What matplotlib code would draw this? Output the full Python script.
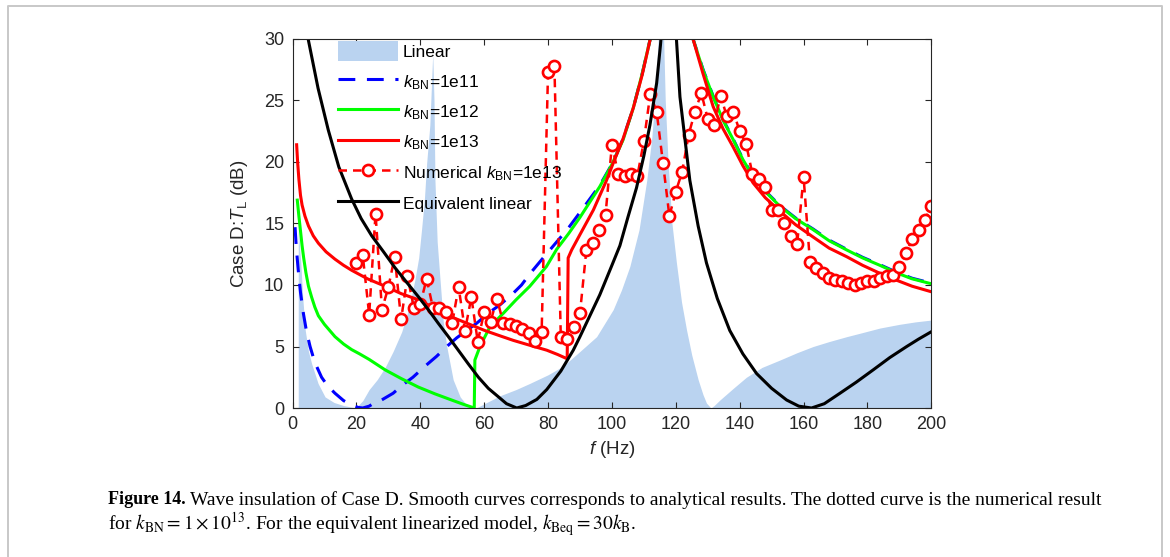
import numpy as np
import matplotlib
matplotlib.use("Agg")
import matplotlib.pyplot as plt
from matplotlib.lines import Line2D

plt.rcParams['font.family'] = ['Liberation Sans', 'DejaVu Sans']
plt.rcParams['mathtext.fontset'] = 'custom'
plt.rcParams['mathtext.rm'] = 'Liberation Sans'
plt.rcParams['mathtext.it'] = 'Liberation Sans:italic'
plt.rcParams['mathtext.bf'] = 'Liberation Sans:bold'

# Linear model (filled area)
lin_f = [1.8, 2.6, 3.2, 4.0, 5.0, 6.0, 8.0, 10.2, 13.0, 16.0, 19.0, 20.0, 22.0, 24.0, 26.5,
         29.0, 31.5, 34.2, 36.5, 38.3, 39.5, 40.4, 41.3, 42.0, 43.0, 43.9, 44.3, 44.6, 45.3,
         46.2, 47.2, 48.3, 50.3, 52.5, 55.0, 56.5, 57.5, 59.7, 65.0, 70.0, 74.3, 80.0, 84.7,
         90.0, 95.2, 100.4, 103.0, 105.6, 108.5, 110.9, 112.5, 113.5, 114.5, 115.3, 116.2,
         116.7, 117.6, 118.8, 120.2, 121.8, 123.4, 125.0, 127.0, 128.5, 129.6, 131.0, 132.0,
         133.8, 138.0, 142.1, 147.0, 152.6, 158.0, 163.0, 168.0, 173.5, 178.0, 183.9, 190.0,
         195.0, 200.0]
lin_db = [14.5, 11.8, 9.0, 6.3, 4.6, 3.6, 2.0, 0.9, 0.45, 0.2, 0.05, 0.05, 0.6, 1.5, 2.3,
          3.3, 4.6, 6.2, 8.2, 10.4, 12.2, 14.5, 17.0, 19.9, 23.0, 28.8, 25.0, 18.5, 13.5,
          10.4, 7.0, 5.0, 2.3, 0.9, 0.1, 0.0, 0.0, 0.3, 1.0, 1.5, 2.0, 2.7, 3.4,
          4.6, 5.8, 8.0, 9.6, 11.5, 14.5, 18.5, 22.0, 25.3, 30.0, 36.0, 30.0,
          25.0, 19.9, 15.0, 11.8, 8.6, 6.3, 4.3, 2.3, 1.1, 0.4, 0.0, 0.2,
          0.65, 1.6, 2.5, 3.3, 3.9, 4.5, 5.0, 5.4, 5.8, 6.1, 6.5, 6.8,
          7.0, 7.15]

# k_BN = 1e11 (blue dashed)
b11_f = [0.8, 1.2, 1.8, 2.5, 3.4, 4.4, 5.5, 7.0, 9.1, 11.0, 13.3, 16.0, 18.5, 20.5, 22.0,
         24.0, 25.5, 27.9, 31.5, 34.6, 37.7, 41.5, 45.1, 48.3, 51.4, 54.5, 57.7, 61.8, 65.0,
         68.6, 71.7, 74.3, 77.5, 82.7, 86.0, 90.0, 96.2, 100.4, 103.5, 106.7, 109.5, 112.0,
         113.0,
         124.5, 125.4, 128.5, 131.7, 134.8, 138.0, 141.0, 144.2, 148.0, 152.6, 157.5, 163.0,
         168.0, 173.5, 178.5, 183.9, 189.0, 194.0, 200.0]
b11_db = [14.7, 13.0, 11.2, 9.4, 7.7, 6.2, 5.0, 3.7, 2.5, 1.8, 1.2, 0.6, 0.25, 0.05, 0.0,
          0.15, 0.4, 0.65, 1.2, 1.9, 2.5, 3.4, 4.2, 5.0, 5.7, 6.3, 6.9, 7.8, 8.4,
          9.2, 10.0, 10.9, 11.9, 13.5, 14.5, 15.9, 18.1, 20.0, 21.9, 24.4, 27.2, 30.0,
          31.5,
          32.0, 30.0, 27.55, 25.35, 23.45, 21.85, 20.25, 18.85, 17.65, 16.45, 15.45, 14.55,
          13.65, 12.9, 12.25, 11.65, 11.05, 10.55, 10.15]

# k_BN = 1e12 (green)
g12_f = [1.5, 2.0, 2.5, 3.0, 3.5, 4.2, 5.0, 6.0, 7.0, 8.1, 10.0, 13.3, 16.0, 18.5, 21.0,
         24.0, 29.0, 34.0, 39.4, 44.6, 49.8, 53.5, 56.9, 57.1, 58.7, 61.8, 66.0, 70.0, 74.3,
         79.5, 82.7, 86.5, 90.0, 96.2, 99.9, 103.5, 106.7, 109.5, 112.0, 113.0,
         124.5, 125.4, 128.5, 131.7, 134.8, 138.0, 141.0, 144.2, 148.0, 152.6, 157.5, 163.0,
         168.0, 173.5, 178.5, 183.9, 189.0, 194.0, 200.0]
g12_db = [16.9, 15.6, 14.4, 13.2, 12.2, 11.0, 9.9, 9.0, 8.2, 7.5, 6.8, 5.8, 5.2, 4.75, 4.4,
          3.95, 3.1, 2.4, 1.7, 1.15, 0.65, 0.3, 0.0, 3.9, 5.0, 6.6, 7.7, 8.8, 9.9,
          11.5, 12.9, 14.2, 15.5, 18.0, 19.75, 21.8, 24.4, 27.2, 30.0, 31.5,
          32.0, 30.0, 27.5, 25.3, 23.4, 21.8, 20.2, 18.8, 17.6, 16.4, 15.4, 14.5,
          13.6, 12.85, 12.2, 11.6, 11.0, 10.5, 10.1]

# k_BN = 1e13 (red)
r13_f = [1.3, 1.6, 2.0, 2.5, 3.0, 3.9, 5.0, 6.5, 8.1, 10.5, 13.3, 16.0, 18.5, 23.5, 29.0,
         34.0, 39.4, 44.6, 49.8, 55.0, 60.2, 64.6, 69.1, 74.3, 79.6, 83.0, 86.0, 86.3, 87.4,
         90.0, 94.2, 98.3, 100.4, 103.5, 106.7, 109.5, 112.0, 113.0,
         124.0, 125.4, 128.5, 131.7, 134.8, 138.0, 141.0, 144.2, 148.0, 152.6, 157.5, 163.0,
         168.0, 173.5, 178.5, 183.9, 189.0, 194.0, 200.0]
r13_db = [21.4, 20.0, 18.6, 17.3, 16.5, 15.6, 14.8, 14.0, 13.4, 12.7, 12.1, 11.6, 11.2, 10.5,
          9.9, 9.3, 8.8, 8.1, 7.4, 6.85, 6.3, 5.9, 5.5, 5.1, 4.7, 4.35, 4.0, 12.2, 12.85,
          14.1, 16.1, 18.5, 19.9, 21.9, 24.4, 27.1, 30.0, 31.5,
          33.0, 30.0, 27.2, 24.5, 22.7, 21.2, 19.7, 18.3, 17.1, 16.0, 14.9, 13.9,
          13.0, 12.3, 11.6, 10.95, 10.4, 9.9, 9.45]

# numerical result, k_BN = 1e13
num_f = [20, 22, 24, 26, 28, 30, 32, 34, 36, 38, 40, 42, 44, 46, 48, 50, 52, 54, 56, 58,
         60, 62, 64, 66, 68, 70, 72, 74, 76, 78, 80, 82, 84, 86, 88, 90, 92, 94, 96, 98,
         100, 102, 104, 106, 108, 110, 112, 114, 116, 118, 120, 122, 124, 126, 128, 130,
         132, 134, 136, 138, 140, 142, 144, 146, 148, 150, 152, 154, 156, 158, 160, 162,
         164, 166, 168, 170, 172, 174, 176, 178, 180, 182, 184, 186, 188, 190, 192, 194,
         196, 198, 200]
num_db = [11.8, 12.4, 7.6, 15.8, 8.0, 9.8, 12.3, 7.2, 10.7, 8.15, 8.45, 10.5, 8.1, 8.1, 7.8,
          6.9, 9.85, 6.3, 9.0, 5.4, 7.8, 7.0, 8.9, 6.9, 6.8, 6.7, 6.4, 6.07, 5.45, 6.2,
          27.3, 27.8, 5.75, 5.65, 6.6, 7.7, 12.85, 13.4, 14.5, 15.7, 21.4, 19.0, 18.9, 19.0,
          18.9, 21.7, 25.5, 24.1, 19.9, 15.6, 17.6, 19.2, 22.2, 24.1, 25.6, 23.5, 23.0, 25.4,
          23.7, 24.1, 22.5, 21.5, 19.0, 18.65, 17.95, 16.1, 16.1, 15.0, 13.95, 13.35, 18.8,
          11.9, 11.35, 11.0, 10.6, 10.4, 10.35, 10.2, 10.0, 10.2, 10.3, 10.3, 10.55, 10.7,
          10.8, 11.5, 12.6, 13.7, 14.5, 15.3, 16.4]

# equivalent linear model (black)
eq_f = [3.5, 4.9, 8.0, 11.2, 14.5, 18.5, 21.5, 24.8, 28.5, 32.1, 35.8, 39.4, 42.5, 45.6,
        48.8, 51.9, 55.0, 58.2, 61.3, 64.5, 67.0, 70.2, 73.0, 76.5, 79.6, 84.0, 87.9, 90.0,
        93.1, 96.2, 100.0, 102.5, 105.0, 107.7, 110.0, 111.9, 114.0, 115.2, 116.3, 117.2,
        119.5, 120.2, 121.3, 124.4, 127.0, 129.6, 133.0, 136.9, 141.0, 145.3, 150.0, 154.7,
        158.5, 162.5, 166.5, 171.4, 176.5, 181.8, 187.0, 192.3, 196.0, 200.0]
eq_db = [33.0, 30.0, 26.0, 22.6, 19.6, 17.0, 15.4, 14.0, 12.7, 11.4, 10.2, 9.05, 8.0, 6.9,
         5.8, 4.7, 3.6, 2.5, 1.6, 0.9, 0.35, 0.0, 0.2, 0.7, 1.5, 3.0, 4.7, 5.8,
         7.5, 9.2, 11.6, 13.2, 15.5, 17.9, 20.5, 23.0, 26.4, 29.5, 33.0, 38.0,
         36.0, 30.0, 25.3, 18.5, 14.8, 11.8, 8.9, 6.3, 4.4, 2.8, 1.6, 0.65,
         0.15, 0.0, 0.35, 1.2, 2.1, 3.1, 4.1, 5.0, 5.6, 6.2]

fig = plt.figure(figsize=(11.7, 5.57), dpi=100)
ax = fig.add_axes([0.25, 0.2675, 0.546, 0.6625])

ax.fill_between(lin_f, lin_db, 0, color='#bad3f0', lw=0, label='Linear')
ax.plot(b11_f, b11_db, color='#0000ff', lw=2.2, dashes=(5.5, 3.8), label=r'$k_{\mathrm{BN}}$=1e11')
ax.plot(g12_f, g12_db, color='#00ff00', lw=2.2, label=r'$k_{\mathrm{BN}}$=1e12')
ax.plot(r13_f, r13_db, color='#ff0000', lw=2.2, label=r'$k_{\mathrm{BN}}$=1e13')
ax.plot(num_f, num_db, color='#ff0000', lw=1.8, dashes=(3.4, 2.4), marker='o', ms=8,
        mew=1.9, mfc='white', mec='#ff0000', label=r'Numerical $k_{\mathrm{BN}}$=1e13')
ax.plot(eq_f, eq_db, color='black', lw=2.2, label='Equivalent linear')

ax.set_xlim(0, 200)
ax.set_ylim(0, 30)
ax.set_xticks(range(0, 201, 20))
ax.set_yticks(range(0, 31, 5))
ax.tick_params(direction='in', length=4.5, width=0.8, top=True, right=True,
               labelsize=13, colors='#262626', pad=6)
for s in ax.spines.values():
    s.set_linewidth(0.8)
    s.set_color('#262626')

ax.set_xlabel(r'$f$ (Hz)', fontsize=13.5, color='#262626', labelpad=4)
ax.set_ylabel(r'Case D:$T_{\mathrm{L}}$ (dB)', fontsize=13.5, color='#262626', labelpad=10)

leg = ax.legend(loc='upper left', bbox_to_anchor=(0.072, 0.994), frameon=False,
                fontsize=12.5, handlelength=3.45, handleheight=1.4, handletextpad=0.25,
                labelspacing=0.57, borderpad=0, borderaxespad=0, numpoints=1)

# caption under the chart
cap_kw = dict(fontsize=14, family='Liberation Serif', math_fontfamily='stix', color='black')
fig.text(108 / 1170, 1 - 500 / 557, 'Figure 14.', va='center', ha='left',
         fontsize=13, family='Liberation Serif', fontweight='bold')
fig.text(190 / 1170, 1 - 500 / 557,
         'Wave insulation of Case D. Smooth curves corresponds to analytical results. '
         'The dotted curve is the numerical result', va='center', ha='left', **cap_kw)
fig.text(108 / 1170, 1 - 524 / 557,
         r'for $k_{\mathrm{BN}} = 1 \times 10^{13}$. For the equivalent linearized model, '
         r'$k_{\mathrm{Beq}} = 30k_{\mathrm{B}}$.', va='center', ha='left', **cap_kw)

# light frame around figure and caption
fc = '#c8c8c8'
fig.add_artist(Line2D([7.5 / 1170, 7.5 / 1170, 1161.5 / 1170, 1161.5 / 1170],
                      [0, 1 - 5.5 / 557, 1 - 5.5 / 557, 0], color=fc, lw=1.4,
                      transform=fig.transFigure))

fig.savefig('out.png', dpi=100)
